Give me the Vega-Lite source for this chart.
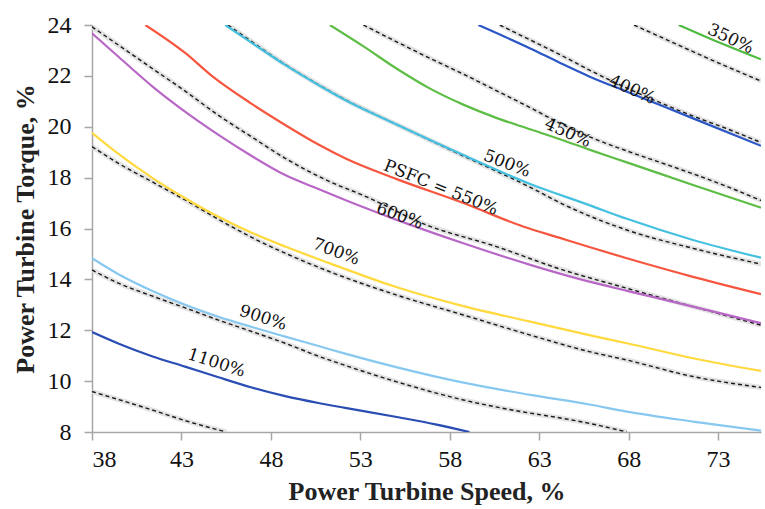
{
  "$schema": "https://vega.github.io/schema/vega-lite/v6.json",
  "width": 669,
  "height": 407,
  "autosize": "none",
  "padding": {"left": 92, "top": 25, "right": 4, "bottom": 77},
  "background": "white",
  "config": {"view": {"stroke": null}},
  "datasets": {
    "solid": [
      {"s": "1100", "x": 38, "y": 11.93}, {"s": "1100", "x": 39.5, "y": 11.47}, {"s": "1100", "x": 41.35, "y": 10.98}, {"s": "1100", "x": 43.2, "y": 10.57}, {"s": "1100", "x": 45.07, "y": 10.15}, {"s": "1100", "x": 46.93, "y": 9.75}, {"s": "1100", "x": 48.8, "y": 9.41}, {"s": "1100", "x": 50.66, "y": 9.14}, {"s": "1100", "x": 52.15, "y": 8.95}, {"s": "1100", "x": 55.2, "y": 8.57}, {"s": "1100", "x": 57.2, "y": 8.3}, {"s": "1100", "x": 59.1, "y": 8.0},
      {"s": "900", "x": 38, "y": 14.83}, {"s": "900", "x": 39.48, "y": 14.2}, {"s": "900", "x": 41.35, "y": 13.55}, {"s": "900", "x": 43.21, "y": 13.0}, {"s": "900", "x": 45.07, "y": 12.53}, {"s": "900", "x": 46.93, "y": 12.13}, {"s": "900", "x": 48.8, "y": 11.75}, {"s": "900", "x": 50.66, "y": 11.38}, {"s": "900", "x": 52.15, "y": 11.08}, {"s": "900", "x": 55, "y": 10.55}, {"s": "900", "x": 58.76, "y": 9.94}, {"s": "900", "x": 62.5, "y": 9.46}, {"s": "900", "x": 65.8, "y": 9.08}, {"s": "900", "x": 67.9, "y": 8.8}, {"s": "900", "x": 71.6, "y": 8.41}, {"s": "900", "x": 75.4, "y": 8.05},
      {"s": "700", "x": 38, "y": 19.76}, {"s": "700", "x": 39.48, "y": 18.93}, {"s": "700", "x": 41.35, "y": 18.0}, {"s": "700", "x": 43.21, "y": 17.19}, {"s": "700", "x": 45.07, "y": 16.46}, {"s": "700", "x": 46.93, "y": 15.83}, {"s": "700", "x": 48.8, "y": 15.29}, {"s": "700", "x": 51.3, "y": 14.63}, {"s": "700", "x": 55, "y": 13.7}, {"s": "700", "x": 58.76, "y": 12.95}, {"s": "700", "x": 62.5, "y": 12.34}, {"s": "700", "x": 65.8, "y": 11.81}, {"s": "700", "x": 67.9, "y": 11.49}, {"s": "700", "x": 71.6, "y": 10.9}, {"s": "700", "x": 75.4, "y": 10.4},
      {"s": "600", "x": 38, "y": 23.67}, {"s": "600", "x": 39.48, "y": 22.75}, {"s": "600", "x": 41.35, "y": 21.6}, {"s": "600", "x": 42.84, "y": 20.78}, {"s": "600", "x": 45.07, "y": 19.68}, {"s": "600", "x": 46.93, "y": 18.85}, {"s": "600", "x": 48.8, "y": 18.1}, {"s": "600", "x": 50.66, "y": 17.55}, {"s": "600", "x": 52.15, "y": 17.12}, {"s": "600", "x": 55, "y": 16.35}, {"s": "600", "x": 58.76, "y": 15.42}, {"s": "600", "x": 62.5, "y": 14.57}, {"s": "600", "x": 65.8, "y": 13.91}, {"s": "600", "x": 67.9, "y": 13.55}, {"s": "600", "x": 71.6, "y": 12.93}, {"s": "600", "x": 75.4, "y": 12.28},
      {"s": "550", "x": 40.98, "y": 24}, {"s": "550", "x": 43.21, "y": 22.9}, {"s": "550", "x": 44.7, "y": 22.0}, {"s": "550", "x": 46.93, "y": 20.9}, {"s": "550", "x": 48.8, "y": 20.07}, {"s": "550", "x": 50.66, "y": 19.3}, {"s": "550", "x": 52.15, "y": 18.76}, {"s": "550", "x": 55, "y": 17.95}, {"s": "550", "x": 58.76, "y": 17.0}, {"s": "550", "x": 62.1, "y": 16.08}, {"s": "550", "x": 64.2, "y": 15.62}, {"s": "550", "x": 65.8, "y": 15.27}, {"s": "550", "x": 67.9, "y": 14.83}, {"s": "550", "x": 71.6, "y": 14.1}, {"s": "550", "x": 75.4, "y": 13.42},
      {"s": "500", "x": 45.45, "y": 24}, {"s": "500", "x": 46.93, "y": 23.3}, {"s": "500", "x": 48.8, "y": 22.43}, {"s": "500", "x": 50.66, "y": 21.64}, {"s": "500", "x": 52.15, "y": 21.05}, {"s": "500", "x": 55, "y": 20.1}, {"s": "500", "x": 58.76, "y": 18.89}, {"s": "500", "x": 62.5, "y": 17.75}, {"s": "500", "x": 65.8, "y": 16.92}, {"s": "500", "x": 67.9, "y": 16.38}, {"s": "500", "x": 71.6, "y": 15.55}, {"s": "500", "x": 75.4, "y": 14.85},
      {"s": "450", "x": 51.3, "y": 24}, {"s": "450", "x": 53.2, "y": 23.15}, {"s": "450", "x": 55, "y": 22.3}, {"s": "450", "x": 56.9, "y": 21.5}, {"s": "450", "x": 58.76, "y": 20.87}, {"s": "450", "x": 60.6, "y": 20.35}, {"s": "450", "x": 62.5, "y": 19.9}, {"s": "450", "x": 64.2, "y": 19.5}, {"s": "450", "x": 65.8, "y": 19.1}, {"s": "450", "x": 67.9, "y": 18.6}, {"s": "450", "x": 71.6, "y": 17.71}, {"s": "450", "x": 75.4, "y": 16.82},
      {"s": "400", "x": 59.6, "y": 24}, {"s": "400", "x": 62.5, "y": 23.08}, {"s": "400", "x": 64.2, "y": 22.5}, {"s": "400", "x": 65.8, "y": 21.98}, {"s": "400", "x": 67.9, "y": 21.38}, {"s": "400", "x": 71.6, "y": 20.33}, {"s": "400", "x": 75.4, "y": 19.25},
      {"s": "350", "x": 70.8, "y": 24}, {"s": "350", "x": 72.5, "y": 23.48}, {"s": "350", "x": 75.4, "y": 22.65}
    ],
    "dash": [
      {"s": "d1", "x": 38, "y": 9.59}, {"s": "d1", "x": 41.35, "y": 8.87}, {"s": "d1", "x": 43.2, "y": 8.45}, {"s": "d1", "x": 45.5, "y": 8.0},
      {"s": "d2", "x": 38, "y": 14.37}, {"s": "d2", "x": 39.48, "y": 13.85}, {"s": "d2", "x": 41.35, "y": 13.35}, {"s": "d2", "x": 43.21, "y": 12.88}, {"s": "d2", "x": 45.07, "y": 12.4}, {"s": "d2", "x": 46.93, "y": 11.95}, {"s": "d2", "x": 48.8, "y": 11.49}, {"s": "d2", "x": 50.66, "y": 10.98}, {"s": "d2", "x": 52.15, "y": 10.62}, {"s": "d2", "x": 55, "y": 9.98}, {"s": "d2", "x": 58.76, "y": 9.26}, {"s": "d2", "x": 62.5, "y": 8.74}, {"s": "d2", "x": 64.2, "y": 8.55}, {"s": "d2", "x": 65.8, "y": 8.34}, {"s": "d2", "x": 67.9, "y": 8.0},
      {"s": "d3", "x": 38, "y": 19.22}, {"s": "d3", "x": 39.48, "y": 18.56}, {"s": "d3", "x": 41.35, "y": 17.84}, {"s": "d3", "x": 43.21, "y": 17.12}, {"s": "d3", "x": 45.07, "y": 16.36}, {"s": "d3", "x": 46.93, "y": 15.65}, {"s": "d3", "x": 48.8, "y": 15.03}, {"s": "d3", "x": 51.3, "y": 14.3}, {"s": "d3", "x": 55, "y": 13.39}, {"s": "d3", "x": 58.76, "y": 12.6}, {"s": "d3", "x": 62.5, "y": 11.81}, {"s": "d3", "x": 65.8, "y": 11.16}, {"s": "d3", "x": 67.9, "y": 10.83}, {"s": "d3", "x": 71.6, "y": 10.18}, {"s": "d3", "x": 75.4, "y": 9.75},
      {"s": "d4", "x": 38, "y": 23.93}, {"s": "d4", "x": 39.48, "y": 23.21}, {"s": "d4", "x": 41.35, "y": 22.3}, {"s": "d4", "x": 43.21, "y": 21.4}, {"s": "d4", "x": 45.07, "y": 20.45}, {"s": "d4", "x": 46.93, "y": 19.6}, {"s": "d4", "x": 48.8, "y": 18.76}, {"s": "d4", "x": 51.3, "y": 17.84}, {"s": "d4", "x": 53.17, "y": 17.3}, {"s": "d4", "x": 56.7, "y": 16.14}, {"s": "d4", "x": 60.6, "y": 15.29}, {"s": "d4", "x": 64.2, "y": 14.4}, {"s": "d4", "x": 67.9, "y": 13.65}, {"s": "d4", "x": 71.6, "y": 12.93}, {"s": "d4", "x": 75.4, "y": 12.2},
      {"s": "d5", "x": 45.6, "y": 24}, {"s": "d5", "x": 46.93, "y": 23.35}, {"s": "d5", "x": 48.8, "y": 22.45}, {"s": "d5", "x": 50.66, "y": 21.66}, {"s": "d5", "x": 52.15, "y": 21.07}, {"s": "d5", "x": 55, "y": 20.1}, {"s": "d5", "x": 58.76, "y": 18.85}, {"s": "d5", "x": 62.5, "y": 17.62}, {"s": "d5", "x": 64.2, "y": 17.0}, {"s": "d5", "x": 67.9, "y": 15.94}, {"s": "d5", "x": 71.6, "y": 15.22}, {"s": "d5", "x": 75.4, "y": 14.6},
      {"s": "d6", "x": 53.17, "y": 24}, {"s": "d6", "x": 55, "y": 23.35}, {"s": "d6", "x": 56.9, "y": 22.69}, {"s": "d6", "x": 58.76, "y": 22.07}, {"s": "d6", "x": 60.6, "y": 21.42}, {"s": "d6", "x": 62.5, "y": 20.75}, {"s": "d6", "x": 64.2, "y": 20.12}, {"s": "d6", "x": 66, "y": 19.55}, {"s": "d6", "x": 67.9, "y": 19.05}, {"s": "d6", "x": 69.75, "y": 18.6}, {"s": "d6", "x": 71.6, "y": 18.15}, {"s": "d6", "x": 73.5, "y": 17.65}, {"s": "d6", "x": 75.4, "y": 17.1},
      {"s": "d7", "x": 60.8, "y": 24}, {"s": "d7", "x": 62.5, "y": 23.41}, {"s": "d7", "x": 64.2, "y": 22.82}, {"s": "d7", "x": 66, "y": 22.16}, {"s": "d7", "x": 67.9, "y": 21.52}, {"s": "d7", "x": 69.75, "y": 20.95}, {"s": "d7", "x": 71.6, "y": 20.42}, {"s": "d7", "x": 73.5, "y": 19.92}, {"s": "d7", "x": 75.4, "y": 19.38},
      {"s": "d8", "x": 68.3, "y": 24}, {"s": "d8", "x": 69.75, "y": 23.54}, {"s": "d8", "x": 71.6, "y": 22.95}, {"s": "d8", "x": 73.5, "y": 22.36}, {"s": "d8", "x": 75.4, "y": 21.8}
    ],
    "labels": [
      {"t": "350%", "x": 73.7, "y": 23.45, "a": 25},
      {"t": "400%", "x": 68.2, "y": 21.45, "a": 24},
      {"t": "450%", "x": 64.6, "y": 19.75, "a": 24},
      {"t": "500%", "x": 61.2, "y": 18.54, "a": 21},
      {"t": "PSFC = 550%", "x": 57.5, "y": 17.6, "a": 22},
      {"t": "600%", "x": 55.2, "y": 16.49, "a": 20},
      {"t": "700%", "x": 51.65, "y": 15.08, "a": 20},
      {"t": "900%", "x": 47.56, "y": 12.48, "a": 18},
      {"t": "1100%", "x": 44.95, "y": 10.71, "a": 18}
    ]
  },
  "encoding": {
    "x": {
      "field": "x", "type": "quantitative",
      "scale": {"domain": [38, 75.4], "nice": false, "zero": false},
      "axis": {
        "title": "Power Turbine Speed, %", "values": [38, 43, 48, 53, 58, 63, 68, 73],
        "grid": false, "domainColor": "#a6a6a6", "tickColor": "#a6a6a6", "tickSize": 8, "domainWidth": 1.5, "tickWidth": 1.5,
        "labelFont": "Liberation Serif", "labelFontSize": 24, "labelColor": "#111", "labelPadding": 7,
        "titleFont": "Liberation Serif", "titleFontSize": 26, "titleFontWeight": "bold", "titleColor": "#222", "titlePadding": 7
      }
    },
    "y": {
      "field": "y", "type": "quantitative",
      "scale": {"domain": [8, 24], "nice": false, "zero": false},
      "axis": {
        "title": "Power Turbine Torque, %", "values": [8, 10, 12, 14, 16, 18, 20, 22, 24],
        "grid": false, "domainColor": "#a6a6a6", "tickColor": "#a6a6a6", "tickSize": 8, "domainWidth": 1.5, "tickWidth": 1.5,
        "labelFont": "Liberation Serif", "labelFontSize": 24, "labelColor": "#111", "labelPadding": 13,
        "titleFont": "Liberation Serif", "titleFontSize": 26, "titleFontWeight": "bold", "titleColor": "#222", "titlePadding": 9
      }
    }
  },
  "layer": [
    {
      "data": {"name": "dash"},
      "mark": {"type": "line", "clip": true, "interpolate": "monotone", "color": "#d9d9d9", "strokeWidth": 5, "opacity": 0.75},
      "encoding": {"detail": {"field": "s"}}
    },
    {
      "data": {"name": "dash"},
      "mark": {"type": "line", "clip": true, "interpolate": "monotone", "color": "#1a1a1a", "strokeWidth": 1.4, "strokeDash": [4, 3]},
      "encoding": {"detail": {"field": "s"}}
    },
    {
      "data": {"name": "solid"},
      "mark": {"type": "line", "clip": true, "interpolate": "monotone", "strokeWidth": 2.2},
      "encoding": {
        "color": {
          "field": "s", "type": "nominal", "legend": null,
          "scale": {
            "domain": ["1100", "900", "700", "600", "550", "500", "450", "400", "350"],
            "range": ["#2a4db4", "#86c8ef", "#ffd93d", "#b867c6", "#f6563f", "#44c0e0", "#5dbd45", "#2b57c6", "#4fbb40"]
          }
        }
      }
    },
    {
      "data": {"name": "labels"},
      "mark": {"type": "text", "font": "DejaVu Serif", "fontSize": 17, "color": "#111", "align": "center", "baseline": "middle"},
      "encoding": {
        "text": {"field": "t"},
        "angle": {"field": "a", "type": "quantitative", "scale": null}
      }
    }
  ]
}
